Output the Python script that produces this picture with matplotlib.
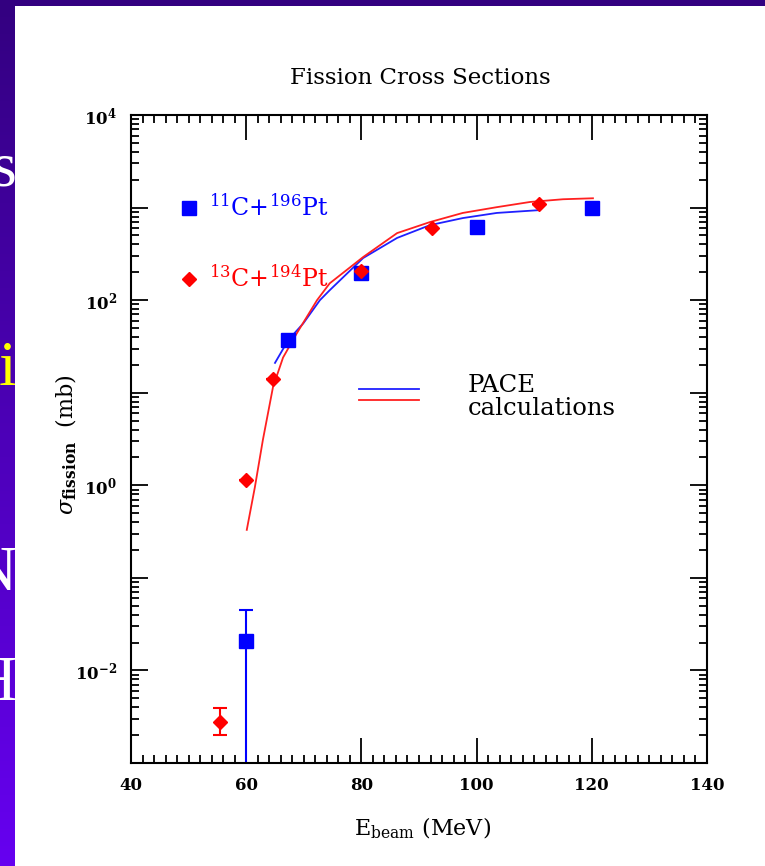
import numpy as np
import matplotlib
matplotlib.use('Agg')
import matplotlib.pyplot as plt
import matplotlib.ticker as mt

plt.rcParams['font.family'] = 'DejaVu Serif'
plt.rcParams['mathtext.fontset'] = 'dejavuserif'

# measured points: 11C + 196Pt (blue squares)
e_11c = [60, 67.3, 80, 100, 120]
sig_11c = [0.021, 37, 195, 620, 980]
err_lo_11c = [0.0209, 0, 0, 0, 0]
err_hi_11c = [0.024, 0, 0, 0, 0]

# measured points: 13C + 194Pt (red diamonds)
e_13c = [55.5, 60, 64.6, 80, 92.3, 110.8]
sig_13c = [0.0028, 1.15, 14, 205, 600, 1080]
err_lo_13c = [0.0008, 0, 0, 0, 0, 0]
err_hi_13c = [0.0011, 0, 0, 0, 0, 0]

# PACE calculations
pace_e_13c = [60.1, 61.5, 62.9, 64.65, 66.4, 68.8, 72.3, 74.5, 80.3, 86.2, 91.9, 97.6, 103.5, 109.3, 115, 120.2]
pace_s_13c = [0.33, 0.95, 3.1, 11.5, 24, 44, 100, 152, 292, 530, 697, 875, 1010, 1150, 1230, 1260]
pace_e_11c = [65.0, 67.3, 69.9, 72.8, 74.5, 80.3, 86.2, 91.9, 97.6, 103.5, 110.5]
pace_s_11c = [21, 37, 56, 100, 128, 285, 470, 646, 770, 875, 935]

W, H = 765, 866
fig = plt.figure(figsize=(W / 100, H / 100), dpi=100)

# slide background strips (the slide text behind is cut off by the white panel)
grad = np.linspace(0, 1, 256).reshape(-1, 1)
cmap = matplotlib.colors.LinearSegmentedColormap.from_list('slide', ['#330080', '#6600f0'])
side = fig.add_axes([0, 0, 15 / W, 1])
side.imshow(grad, aspect='auto', cmap=cmap, extent=[0, 15, H, 0])
side.set_xlim(0, 15)
side.set_ylim(H, 0)
side.axis('off')
for ch, yy, col in [('s', 186, 'white'), ('i', 385, '#ffff00'), ('N', 590, 'white'), ('H', 700, 'white')]:
    side.text(16, yy, ch, color=col, fontsize=46, family='Liberation Serif', ha='right', va='baseline', clip_on=True)
top = fig.add_axes([0, 1 - 6 / H, 1, 6 / H])
top.set_facecolor('#330080')
top.set_xticks([])
top.set_yticks([])
for s in top.spines.values():
    s.set_visible(False)

ax = fig.add_axes([131 / W, 103 / H, 576 / W, 648 / H])
ax.set_yscale('log')
ax.set_xlim(40, 140)
ax.set_ylim(1e-3, 1e4)

ax.plot(pace_e_11c, pace_s_11c, color='#2020ff', lw=1.3)
ax.plot(pace_e_13c, pace_s_13c, color='#ff2020', lw=1.3)
ax.errorbar(e_11c, sig_11c, yerr=[err_lo_11c, err_hi_11c], fmt='s', color='#0000ff',
            ms=10, capsize=5, elinewidth=1.5, capthick=1.5)
ax.errorbar(e_13c, sig_13c, yerr=[err_lo_13c, err_hi_13c], fmt='D', color='#ff0000',
            ms=7.5, capsize=5, elinewidth=1.5, capthick=1.5)

ax.xaxis.set_major_locator(mt.MultipleLocator(20))
ax.xaxis.set_minor_locator(mt.MultipleLocator(2))
ax.yaxis.set_major_locator(mt.FixedLocator([10.0 ** p for p in range(-3, 5)]))
ax.yaxis.set_minor_locator(mt.FixedLocator([m * 10.0 ** p for p in range(-3, 4) for m in range(2, 10)]))


def ylab(v, pos):
    p = int(round(np.log10(v)))
    return r'$\mathbf{10^{%d}}$' % p if p % 2 == 0 else ''


ax.yaxis.set_major_formatter(mt.FuncFormatter(ylab))
ax.yaxis.set_minor_formatter(mt.NullFormatter())
ax.tick_params(which='both', direction='in', top=True, right=True, width=1.3)
ax.tick_params(axis='x', which='major', length=18, pad=10, labelsize=12)
ax.tick_params(axis='x', which='minor', length=6)
ax.tick_params(axis='y', which='major', length=12, pad=10, labelsize=12)
ax.tick_params(axis='y', which='minor', length=6)
for lab in ax.get_xticklabels():
    lab.set_fontweight('bold')
for s in ax.spines.values():
    s.set_linewidth(1.5)

# legend
ax.plot([50], [1000], 's', color='#0000ff', ms=10)
ax.plot([50], [170], 'D', color='#ff0000', ms=7.5)
ax.text(53.5, 1000, r'$^{11}$C+$^{196}$Pt', color='#0000ff', fontsize=17, va='center')
ax.text(53.5, 170, r'$^{13}$C+$^{194}$Pt', color='#ff0000', fontsize=17, va='center')
ax.plot([79.5, 90], [11, 11], color='#2020ff', lw=1.3)
ax.plot([79.5, 90], [8.3, 8.3], color='#ff2020', lw=1.3)
ax.text(98.5, 9.0, 'PACE\ncalculations', fontsize=17.5, va='center', linespacing=1.0)

fig.text(420 / W, 1 - 78 / H, 'Fission Cross Sections', fontsize=16.5, ha='center', va='center')
fig.text(423 / W, 1 - 828 / H, r'E$_{\rm beam}$ (MeV)', fontsize=16, ha='center', va='center')
fig.text(66 / W, 1 - 445 / H, r'$\sigma_{\bf fission}$  (mb)', fontsize=16, rotation=90, ha='center', va='center')

fig.savefig('out.png', dpi=100, facecolor='white')
